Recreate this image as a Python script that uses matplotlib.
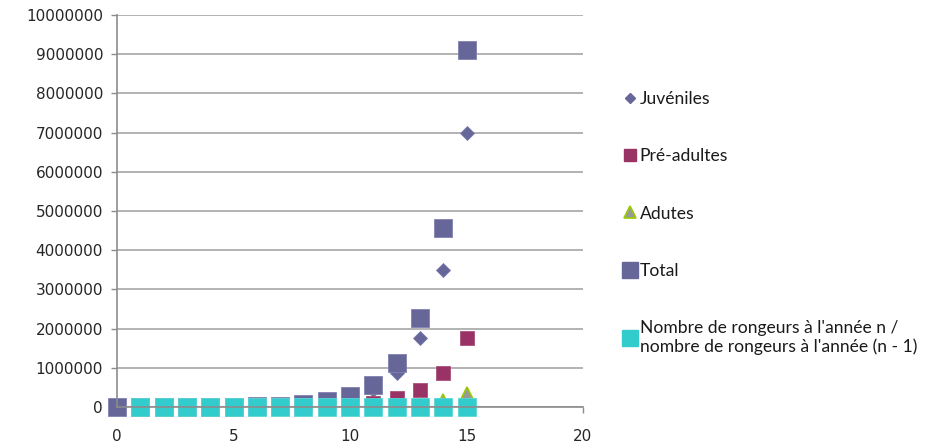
import numpy as np
import matplotlib
matplotlib.use("Agg")
import matplotlib.pyplot as plt
from matplotlib.lines import Line2D

# years
annees = list(range(16))
annees_ratio = list(range(1, 16))

juveniles = [215, 430, 850, 1700, 3400, 6800, 13600, 27200, 54500, 109000,
             218000, 435000, 870000, 1750000, 3500000, 7000000]
pre_adultes = [55, 110, 220, 430, 860, 1700, 3400, 6900, 13700, 27500,
               55000, 110000, 220000, 440000, 880000, 1750000]
adultes = [10, 20, 45, 90, 170, 350, 690, 1400, 2700, 5500,
           11000, 22000, 44000, 88000, 175000, 350000]
total = [280, 560, 1115, 2220, 4430, 8850, 17690, 35500, 70900, 142000,
         284000, 567000, 1134000, 2278000, 4555000, 9100000]
ratio = [2.0, 1.99, 1.99, 2.0, 2.0, 2.0, 2.0, 2.0, 2.0, 2.0,
         2.0, 2.0, 2.0, 2.0, 2.0]

labels = ["Juvéniles", "Pré-adultes", "Adutes", "Total",
          "Nombre de rongeurs à l'année n /\nnombre de rongeurs à l'année (n - 1)"]

c_juv = "#666699"
c_pre = "#993366"
c_adu = "#999999"
c_tot = "#666699"
c_rat = "#33cccc"

fig = plt.figure(figsize=(9.4, 4.45), dpi=100)
ax = fig.add_axes([117 / 940, 1 - 407 / 445, 466 / 940, 392 / 445])

ax.plot(annees, juveniles, 'D', ms=7.6, color=c_juv, mec="#7a7aab", mew=0.6, clip_on=False)
ax.plot(annees, pre_adultes, 's', ms=10, color=c_pre, mec="#a8507a", mew=0.6, clip_on=False)
ax.plot(annees, adultes, '^', ms=8.6, color=c_adu, mec="#99cc00", mew=1.2, clip_on=False)
ax.plot(annees, total, 's', ms=13.2, color=c_tot, mec="#8080b0", mew=0.6, clip_on=False)
ax.plot(annees_ratio, ratio, 's', ms=12.3, color=c_rat, mec="#5cd6d6", mew=0.6, clip_on=False)

ax.set_xlim(0, 20)
ax.set_ylim(0, 10000000)
ax.set_xticks([0, 5, 10, 15, 20])
ax.set_yticks(np.arange(0, 10000001, 1000000))
ax.set_yticklabels([str(v) for v in range(0, 10000001, 1000000)])

ax.grid(axis='y', color="#a6a6a6", lw=1.2)
ax.set_axisbelow(True)
for s in ["top", "right"]:
    ax.spines[s].set_visible(False)
for s in ["left", "bottom"]:
    ax.spines[s].set_color("#8c8c8c")
    ax.spines[s].set_linewidth(1.2)
ax.tick_params(axis='y', length=4, width=1, color="#8c8c8c", pad=6,
               labelsize=11, labelcolor="#262626")
ax.tick_params(axis='x', length=4, width=1, color="#8c8c8c", pad=12,
               labelsize=11, labelcolor="#262626")

handles = [
    Line2D([], [], ls='', marker='D', ms=5.6, color=c_juv),
    Line2D([], [], ls='', marker='s', ms=8, color=c_pre),
    Line2D([], [], ls='', marker='^', ms=8.6, color=c_adu, mec="#99cc00", mew=1.2),
    Line2D([], [], ls='', marker='s', ms=11.3, color=c_tot),
    Line2D([], [], ls='', marker='s', ms=11.3, color=c_rat),
]
leg = fig.legend(handles, labels, loc="upper left", bbox_to_anchor=(623 / 940, 1 - 91 / 445),
                 frameon=False, handlelength=0.8, handletextpad=0.15, labelspacing=2.36,
                 borderaxespad=0, borderpad=0,
                 prop={"family": ["Lato", "DejaVu Sans"], "size": 12.6})
for t in leg.get_texts():
    t.set_color("#1a1a1a")

fig.savefig("out.png", dpi=100)
